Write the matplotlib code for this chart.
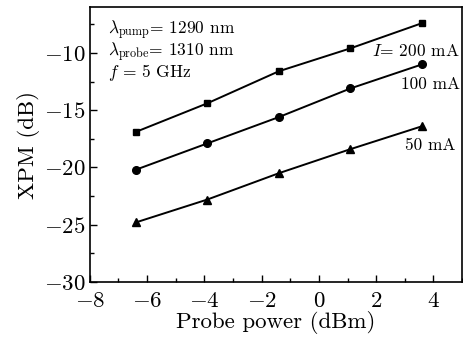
import matplotlib
matplotlib.use('Agg')
import matplotlib.pyplot as plt
from matplotlib.ticker import MultipleLocator

# probe power (dBm) and XPM (dB) per pump current
probe_power = [-6.4, -3.9, -1.4, 1.1, 3.6]
xpm_200 = [-16.9, -14.4, -11.6, -9.6, -7.4]
xpm_100 = [-20.2, -17.9, -15.6, -13.1, -11.0]
xpm_50 = [-24.8, -22.8, -20.5, -18.4, -16.4]

plt.rcParams['font.family'] = ['cmr10', 'DejaVu Serif']
plt.rcParams['mathtext.fontset'] = 'cm'
plt.rcParams['axes.formatter.use_mathtext'] = True

fig = plt.figure(figsize=(4.63, 3.39), dpi=100)
ax = fig.add_axes([0.194, 0.168, 0.804, 0.811])

ax.plot(probe_power, xpm_200, 'k-s', ms=5, lw=1.4)
ax.plot(probe_power, xpm_100, 'k-o', ms=5.5, lw=1.4)
ax.plot(probe_power, xpm_50, 'k-^', ms=6, lw=1.4)

ax.set_xlim(-8, 5)
ax.set_ylim(-30, -6)
ax.xaxis.set_major_locator(MultipleLocator(2))
ax.xaxis.set_minor_locator(MultipleLocator(1))
ax.yaxis.set_major_locator(MultipleLocator(5))
ax.yaxis.set_minor_locator(MultipleLocator(2.5))
ax.tick_params(which='both', direction='in', labelsize=16.5, width=1)
ax.tick_params(which='major', length=5)
ax.tick_params(axis='y', pad=3)
ax.tick_params(axis='x', pad=7)
ax.tick_params(which='minor', length=3)
for s in ax.spines.values():
    s.set_linewidth(1.2)

ax.set_xlabel('Probe power (dBm)', fontsize=16.5, labelpad=0)
ax.set_ylabel('XPM (dB)', fontsize=16.5, labelpad=3)

ax.text(0.05, 0.96, r'$\lambda_{\rm pump}$= 1290 nm', transform=ax.transAxes,
        fontsize=12.5, va='top')
ax.text(0.05, 0.88, r'$\lambda_{\rm probe}$= 1310 nm', transform=ax.transAxes,
        fontsize=12.5, va='top')
ax.text(0.05, 0.80, r'$f$ = 5 GHz', transform=ax.transAxes,
        fontsize=12.5, va='top')

ax.text(4.92, -9.8, r'$I$= 200 mA', fontsize=12.5, ha='right', va='center')
ax.text(4.92, -12.7, '100 mA', fontsize=12.5, ha='right', va='center')
ax.text(4.75, -18.1, '50 mA', fontsize=12.5, ha='right', va='center')

fig.savefig('out.png', dpi=100)
